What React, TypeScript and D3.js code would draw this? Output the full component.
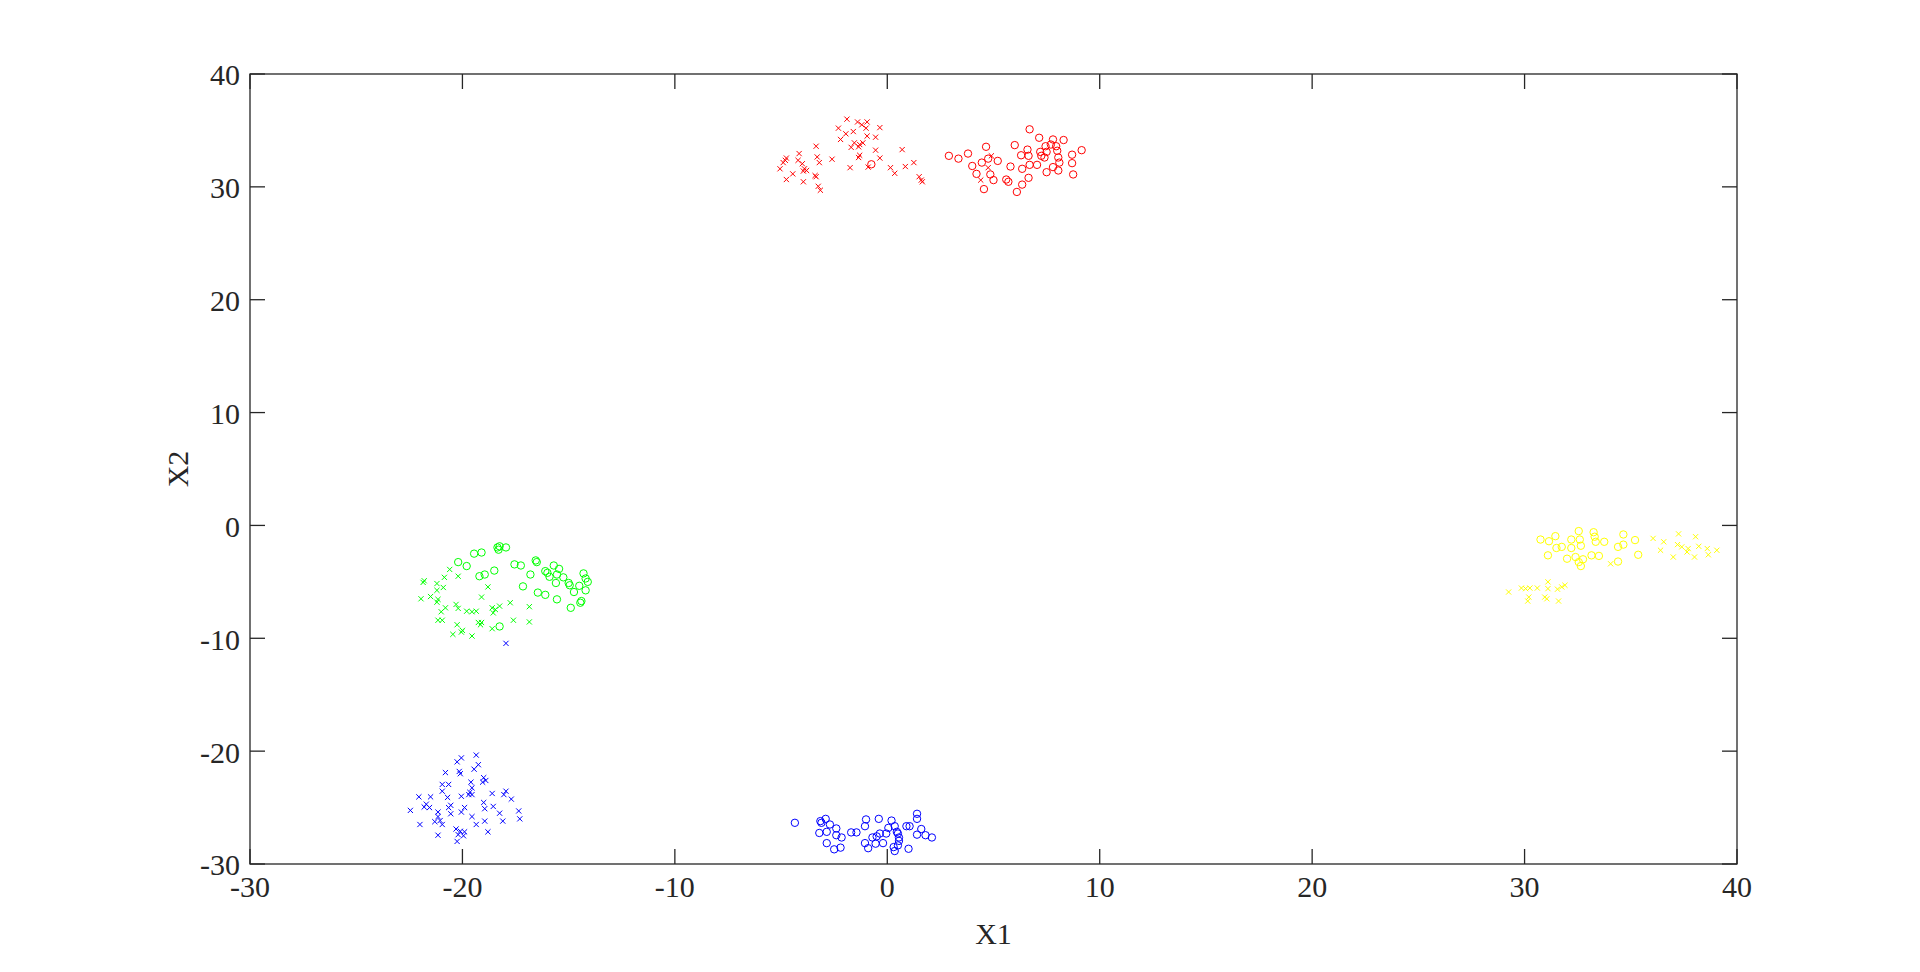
import React from "react";
import * as d3 from "d3";

type P = [number, number];

// Red cluster
const redCross: P[] = [
  [-1.9, 36.0], [-1.4, 35.75], [-1.2, 35.5], [-0.95, 35.75], [-1.0, 35.2], [-0.35, 35.25], [-2.3, 35.2],
  [-1.6, 34.9], [-1.95, 34.7], [-0.95, 34.5], [-0.55, 34.4], [-2.2, 34.2], [-1.55, 33.9], [-1.15, 33.9],
  [-1.3, 33.75], [-1.7, 33.5], [-1.35, 33.55], [-0.55, 33.25], [-1.3, 32.8], [-1.35, 32.6], [-0.35, 32.55],
  [-1.75, 31.7], [-0.9, 31.75], [0.7, 33.3], [0.15, 31.7], [0.35, 31.2], [0.85, 31.8], [1.25, 32.15],
  [1.5, 30.9], [1.6, 30.6], [1.65, 30.45], [-4.75, 32.55], [-4.8, 32.35], [-4.9, 32.15], [-5.05, 31.6],
  [-4.15, 32.95], [-4.2, 32.35], [-4.0, 32.05], [-3.9, 31.6], [-3.95, 31.4], [-3.8, 31.45], [-4.45, 31.15],
  [-4.75, 30.65], [-3.95, 30.45], [-3.35, 33.6], [-3.3, 32.65], [-3.2, 32.15], [-2.6, 32.45], [-3.4, 31.0],
  [-3.35, 30.9], [-3.25, 30.05], [-3.15, 29.7], [4.9, 32.75], [4.75, 31.7], [4.4, 30.6],
];
const redCircle: P[] = [
  [-0.75, 32.0], [6.7, 35.1], [7.15, 34.35], [7.8, 34.2], [8.3, 34.15], [7.7, 33.75], [7.45, 33.6], [7.95, 33.6],
  [6.0, 33.7], [6.6, 33.3], [7.2, 33.1], [7.5, 33.1], [8.0, 33.2], [8.7, 32.85], [9.15, 33.25], [6.3, 32.8],
  [6.65, 32.75], [7.25, 32.75], [7.4, 32.6], [8.05, 32.6], [8.1, 32.15], [8.7, 32.1], [7.05, 31.95],
  [6.7, 31.95], [7.8, 31.75], [7.5, 31.3], [8.05, 31.45], [8.75, 31.1], [5.8, 31.8], [6.35, 31.6],
  [6.65, 30.8], [6.35, 30.2], [6.1, 29.55], [5.6, 30.65], [5.7, 30.45], [4.65, 33.55], [2.9, 32.75],
  [3.35, 32.5], [3.8, 32.95], [4.75, 32.5], [5.2, 32.3], [4.45, 32.15], [4.0, 31.85], [4.2, 31.15],
  [4.85, 31.1], [5.0, 30.6], [4.55, 29.8],
];

// Green cluster
const greenCircle: P[] = [
  [-18.35, -1.95], [-18.25, -1.85], [-17.95, -1.95], [-18.3, -2.15], [-19.45, -2.5], [-19.1, -2.4],
  [-20.2, -3.25], [-19.8, -3.6], [-17.55, -3.45], [-17.25, -3.55], [-16.55, -3.1], [-16.5, -3.25],
  [-18.5, -4.0], [-18.95, -4.35], [-19.2, -4.5], [-16.8, -4.35], [-15.7, -3.55], [-15.45, -3.85],
  [-16.1, -4.05], [-16.0, -4.2], [-15.9, -4.55], [-15.55, -4.35], [-15.25, -4.6], [-15.6, -5.1],
  [-15.0, -5.1], [-14.95, -5.3], [-14.5, -5.35], [-14.3, -4.25], [-14.2, -4.7], [-14.1, -5.0],
  [-14.2, -5.75], [-14.75, -5.9], [-14.4, -6.7], [-14.45, -6.85], [-14.9, -7.3], [-15.55, -6.55],
  [-17.15, -5.4], [-16.45, -5.95], [-16.1, -6.15], [-18.25, -8.95],
];
const greenCross: P[] = [
  [-21.8, -4.9], [-21.85, -5.05], [-21.2, -5.15], [-20.85, -4.6], [-20.6, -3.9], [-20.2, -4.5], [-20.9, -5.5],
  [-21.2, -5.75], [-21.95, -6.5], [-21.5, -6.3], [-21.15, -6.55], [-21.2, -6.8], [-21.0, -7.65], [-20.8, -7.3],
  [-20.3, -7.0], [-20.2, -7.35], [-19.8, -7.6], [-19.55, -7.65], [-19.35, -7.6], [-18.8, -5.45], [-19.1, -6.35],
  [-17.75, -6.85], [-18.6, -7.3], [-18.45, -7.45], [-18.25, -7.15], [-16.85, -7.2], [-18.55, -7.75],
  [-21.15, -8.4], [-20.95, -8.4], [-20.25, -8.8], [-20.0, -9.3], [-20.05, -9.45], [-20.45, -9.65],
  [-19.55, -9.8], [-19.25, -8.6], [-19.1, -8.6], [-19.15, -8.8], [-18.6, -9.15], [-17.6, -8.4], [-16.85, -8.55],
];

// Blue cluster
const blueCross: P[] = [
  [-17.95, -10.45], [-19.35, -20.35], [-20.25, -20.95], [-20.05, -20.6], [-19.25, -21.2], [-19.45, -21.6],
  [-20.8, -21.9], [-20.15, -21.8], [-20.1, -22.0], [-19.0, -22.35], [-18.9, -22.6], [-19.05, -22.75],
  [-19.6, -22.75], [-20.95, -22.95], [-20.65, -22.95], [-19.55, -23.25], [-20.95, -23.55], [-19.65, -23.65],
  [-19.7, -23.85], [-19.55, -23.85], [-20.7, -24.1], [-20.05, -24.0], [-18.6, -23.75], [-18.05, -23.85],
  [-17.95, -23.55], [-17.7, -24.25], [-22.05, -24.05], [-21.5, -24.05], [-21.8, -24.95], [-21.7, -24.7],
  [-21.55, -25.0], [-22.45, -25.25], [-21.15, -25.4], [-20.65, -25.0], [-20.55, -24.8], [-20.55, -25.55],
  [-19.9, -25.0], [-20.05, -25.4], [-19.0, -24.55], [-18.95, -25.1], [-18.55, -24.9], [-18.25, -25.5],
  [-19.55, -25.8], [-21.15, -25.8], [-21.3, -26.25], [-21.05, -26.15], [-20.95, -26.5], [-22.0, -26.5],
  [-19.35, -26.5], [-18.95, -26.2], [-18.1, -26.2], [-17.35, -25.3], [-17.3, -26.0], [-20.3, -26.9],
  [-20.1, -27.1], [-19.9, -27.15], [-20.2, -27.4], [-19.95, -27.5], [-20.25, -28.0], [-21.15, -27.45],
  [-18.8, -27.15],
];
const blueCircle: P[] = [
  [-4.35, -26.35], [-3.15, -26.2], [-2.9, -26.0], [-3.1, -26.35], [-2.7, -26.5], [-3.2, -27.25], [-2.85, -27.15],
  [-2.4, -26.85], [-2.4, -27.45], [-2.15, -27.65], [-2.85, -28.15], [-2.5, -28.7], [-2.2, -28.55], [-1.7, -27.2],
  [-1.45, -27.2], [-1.0, -26.05], [-1.05, -26.65], [-0.4, -26.0], [0.2, -26.15], [0.05, -26.8], [0.35, -26.65],
  [0.9, -26.65], [1.05, -26.65], [1.4, -25.55], [1.4, -26.0], [1.6, -26.9], [1.4, -27.4], [1.8, -27.45],
  [2.1, -27.65], [0.45, -27.15], [0.5, -27.3], [0.55, -27.65], [0.55, -27.95], [0.5, -28.35], [0.3, -28.5],
  [0.35, -28.85], [1.0, -28.65], [-0.35, -27.3], [-0.5, -27.55], [-0.7, -27.65], [-1.05, -28.15], [-0.9, -28.6],
  [-0.55, -28.2], [-0.2, -28.15], [-0.05, -27.3],
];

// Yellow cluster
const yellowCircle: P[] = [
  [30.75, -1.25], [31.15, -1.4], [31.45, -0.95], [31.5, -2.0], [31.75, -1.9], [32.2, -1.25], [32.2, -2.0],
  [32.55, -0.5], [32.6, -1.25], [32.65, -1.8], [33.25, -0.6], [33.3, -1.0], [33.35, -1.45], [33.75, -1.45],
  [34.65, -0.8], [34.4, -1.9], [34.65, -1.7], [35.2, -1.3], [35.35, -2.6], [31.1, -2.65], [32.0, -2.95],
  [32.4, -2.8], [32.55, -3.25], [32.65, -3.6], [32.75, -3.0], [33.15, -2.65], [33.5, -2.7], [34.4, -3.2],
];
const yellowCross: P[] = [
  [36.05, -1.15], [36.55, -1.45], [36.4, -2.2], [37.0, -2.8], [37.25, -0.75], [37.2, -1.7], [37.4, -1.9],
  [37.7, -2.05], [38.05, -1.0], [37.65, -2.35], [38.0, -2.8], [38.2, -1.85], [38.6, -2.05], [38.65, -2.6],
  [39.05, -2.2], [34.05, -3.4], [29.25, -5.9], [29.85, -5.55], [30.05, -5.6], [30.25, -5.55], [30.6, -5.55],
  [31.1, -5.0], [31.1, -5.6], [31.55, -5.65], [31.9, -5.3], [31.75, -5.45], [30.2, -6.35], [30.15, -6.7],
  [30.95, -6.35], [31.05, -6.5], [31.6, -6.7],
];

const xTicks = [-30, -20, -10, 0, 10, 20, 30, 40];
const yTicks = [-30, -20, -10, 0, 10, 20, 30, 40];

const series = [
  { pts: redCross, color: "#ff0000", marker: "x" },
  { pts: redCircle, color: "#ff0000", marker: "o" },
  { pts: greenCross, color: "#00ff00", marker: "x" },
  { pts: greenCircle, color: "#00ff00", marker: "o" },
  { pts: blueCross, color: "#0000ff", marker: "x" },
  { pts: blueCircle, color: "#0000ff", marker: "o" },
  { pts: yellowCross, color: "#ffff00", marker: "x" },
  { pts: yellowCircle, color: "#ffff00", marker: "o" },
];

export default function App() {
  const W = 1920, H = 972;
  const left = 250, right = 1737, top = 74, bottom = 864;
  const x = d3.scaleLinear().domain([-30, 40]).range([left, right]);
  const y = d3.scaleLinear().domain([-30, 40]).range([bottom, top]);
  const tl = 15;
  const font = "'Liberation Serif', 'Times New Roman', serif";
  const fs = 30;
  const cr = 3.7;
  const xs = 2.6;
  return (
    <svg width={W} height={H} style={{ position: "absolute", left: 0, top: 0, background: "#fff" }}>
      <rect x={0} y={0} width={W} height={H} fill="#fff" />
      <g>
        {series.map((s, si) =>
          s.pts.map((p, i) => {
            const cx = x(p[0]);
            const cy = y(p[1]);
            return s.marker === "o" ? (
              <circle key={si + "-" + i} cx={cx} cy={cy} r={cr} fill="none" stroke={s.color} strokeWidth={1} />
            ) : (
              <path
                key={si + "-" + i}
                d={`M${cx - xs},${cy - xs}L${cx + xs},${cy + xs}M${cx - xs},${cy + xs}L${cx + xs},${cy - xs}`}
                stroke={s.color}
                strokeWidth={1}
                fill="none"
              />
            );
          })
        )}
      </g>
      <rect x={left} y={top} width={right - left} height={bottom - top} fill="none" stroke="#262626" strokeWidth={1.3} />
      {xTicks.map((t) => (
        <g key={"xt" + t}>
          <line x1={x(t)} x2={x(t)} y1={bottom} y2={bottom - tl} stroke="#262626" strokeWidth={1.3} />
          <line x1={x(t)} x2={x(t)} y1={top} y2={top + tl} stroke="#262626" strokeWidth={1.3} />
          <text x={x(t)} y={bottom + 12} dy="0.71em" textAnchor="middle" fontFamily={font} fontSize={fs} fill="#262626">
            {t}
          </text>
        </g>
      ))}
      {yTicks.map((t) => (
        <g key={"yt" + t}>
          <line x1={left} x2={left + tl} y1={y(t)} y2={y(t)} stroke="#262626" strokeWidth={1.3} />
          <line x1={right} x2={right - tl} y1={y(t)} y2={y(t)} stroke="#262626" strokeWidth={1.3} />
          <text x={left - 10} y={y(t)} dy="0.38em" textAnchor="end" fontFamily={font} fontSize={fs} fill="#262626">
            {t}
          </text>
        </g>
      ))}
      <text x={(left + right) / 2} y={944} textAnchor="middle" fontFamily={font} fontSize={fs} fill="#262626">
        X1
      </text>
      <text
        transform={`translate(188,${(top + bottom) / 2}) rotate(-90)`}
        textAnchor="middle"
        fontFamily={font}
        fontSize={fs}
        fill="#262626"
      >
        X2
      </text>
    </svg>
  );
}
